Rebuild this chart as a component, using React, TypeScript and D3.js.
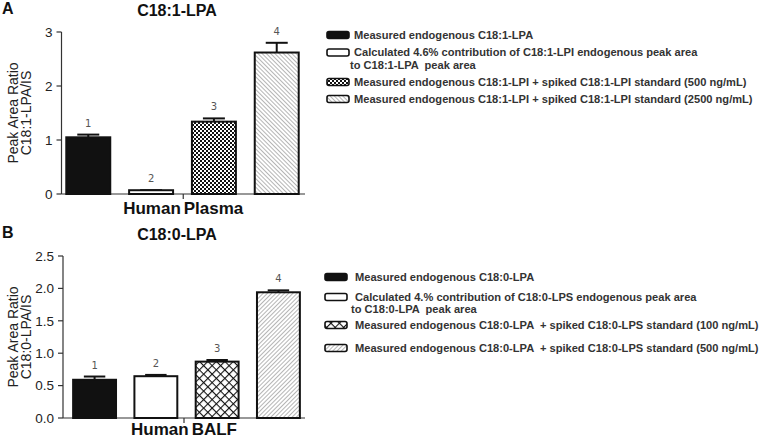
import React from "react";
import * as d3 from "d3";

const categories = ["1", "2", "3", "4"];
const plasmaValues = [1.05, 0.07, 1.34, 2.62];
const plasmaErrors = [0.05, 0.0, 0.06, 0.18];
const balfValues = [0.59, 0.645, 0.87, 1.94];
const balfErrors = [0.05, 0.02, 0.025, 0.03];
const plasmaTicks = [0, 1, 2, 3];
const balfTicks = [0, 0.5, 1.0, 1.5, 2.0, 2.5];
const plasmaLegend = [
  ["Measured endogenous C18:1-LPA"],
  ["Calculated 4.6% contribution of C18:1-LPI endogenous peak area", "to C18:1-LPA  peak area"],
  ["Measured endogenous C18:1-LPI + spiked C18:1-LPI standard (500 ng/mL)"],
  ["Measured endogenous C18:1-LPI + spiked C18:1-LPI standard (2500 ng/mL)"],
];
const balfLegend = [
  ["Measured endogenous C18:0-LPA"],
  ["Calculated 4.% contribution of C18:0-LPS endogenous peak area", "to C18:0-LPA  peak area"],
  ["Measured endogenous C18:0-LPA  + spiked C18:0-LPS standard (100 ng/mL)"],
  ["Measured endogenous C18:0-LPA  + spiked C18:0-LPS standard (500 ng/mL)"],
];

const FONT = "'Liberation Sans', Arial, sans-serif";

type PanelProps = {
  letter: string;
  title: string;
  yLabel2: string;
  group: [string, string];
  values: number[];
  errors: number[];
  ticks: number[];
  tickFmt: (v: number) => string;
  yDomain: [number, number];
  yRange: [number, number];
  xRange: [number, number];
  axisX: number;
  top: number;
  groupDy: number;
  fills: string[];
  legend: string[][];
  legendRows: number[];
  legendLineGap: number;
  legendSwatchX: number;
  legendTextX: number;
};

function Panel(p: PanelProps) {
  const y = d3.scaleLinear().domain(p.yDomain).range(p.yRange);
  const x = d3.scaleBand().domain(categories).range(p.xRange).paddingInner(0.3).paddingOuter(0.1);
  const y0 = y(0);
  const axisEnd = 305;
  const midY = (p.yRange[0] + p.yRange[1]) / 2;
  const centerX = (p.axisX + axisEnd) / 2;
  return (
    <g>
      <text x={2} y={p.top + 14} fontFamily={FONT} fontWeight="bold" fontSize={16} fill="#111">{p.letter}</text>
      <text x={177} y={p.top + 16} textAnchor="middle" fontFamily={FONT} fontWeight="bold" fontSize={16} fill="#111">{p.title}</text>
      {/* y axis */}
      <line x1={p.axisX} x2={p.axisX} y1={p.yRange[1]} y2={y0} stroke="#333" strokeWidth={1.2} />
      {p.ticks.map((t) => (
        <g key={t}>
          <line x1={p.axisX - 5} x2={p.axisX} y1={y(t)} y2={y(t)} stroke="#333" strokeWidth={1.2} />
          <text x={p.axisX - 9} y={y(t)} dy="0.35em" textAnchor="end" fontFamily={FONT} fontSize={13.5} fill="#222">{p.tickFmt(t)}</text>
        </g>
      ))}
      {/* x axis */}
      <line x1={p.axisX} x2={axisEnd} y1={y0} y2={y0} stroke="#333" strokeWidth={1.2} />
      <line x1={centerX} x2={centerX} y1={y0} y2={y0 + 5} stroke="#333" strokeWidth={1.2} />
      <text x={centerX} y={y0 + p.groupDy} textAnchor="middle" fontFamily={FONT} fontWeight="bold" fontSize={17} fill="#111">
        {p.group[0]}<tspan dx={3}>{p.group[1]}</tspan>
      </text>
      {/* y title */}
      <text transform={`translate(18,${midY}) rotate(-90)`} textAnchor="middle" fontFamily={FONT} fontSize={14} fill="#222">Peak Area Ratio</text>
      <text transform={`translate(31,${midY}) rotate(-90)`} textAnchor="middle" fontFamily={FONT} fontSize={14} fill="#222">{p.yLabel2}</text>
      {/* bars */}
      {categories.map((c, i) => {
        const bx = x(c)!;
        const bw = x.bandwidth();
        const v = p.values[i];
        const e = p.errors[i];
        const cx = bx + bw / 2;
        const yTop = y(v);
        const yErr = y(v + e);
        return (
          <g key={c}>
            <line x1={cx} x2={cx} y1={yTop} y2={yErr} stroke="#111" strokeWidth={2} />
            <line x1={cx - bw / 4} x2={cx + bw / 4} y1={yErr} y2={yErr} stroke="#111" strokeWidth={2} />
            <rect x={bx} y={yTop} width={bw} height={y0 - yTop} fill={p.fills[i]} stroke="#111" strokeWidth={2} />
            <text x={cx} y={yErr - 8} textAnchor="middle" fontFamily="'DejaVu Sans', sans-serif" fontSize={10} fill="#555">{c}</text>
          </g>
        );
      })}
      {/* legend */}
      {p.legend.map((lines, i) => (
        <g key={i}>
          <rect x={p.legendSwatchX} y={p.legendRows[i] - 3.5} width={22} height={7} rx={2} fill={p.fills[i]} stroke="#111" strokeWidth={1.6} />
          {lines.map((ln, j) => (
            <text key={j} x={j === 0 ? p.legendTextX : p.legendTextX - 4} y={p.legendRows[i] + j * p.legendLineGap} dy="0.35em" fontFamily={FONT} fontWeight="bold" fontSize={11.1} fill="#333" style={{ whiteSpace: "pre" }}>{ln}</text>
          ))}
        </g>
      ))}
    </g>
  );
}

export default function App() {
  return (
    <svg width={765} height={439} style={{ position: "absolute", left: 0, top: 0, background: "#fff" }}>
      <defs>
        <pattern id="dots" width={4} height={4} patternUnits="userSpaceOnUse">
          <rect width={4} height={4} fill="#fff" />
          <rect x={0} y={0} width={2} height={2} fill="#111" />
          <rect x={2} y={2} width={2} height={2} fill="#111" />
        </pattern>
        <pattern id="hatchA" width={3} height={3} patternUnits="userSpaceOnUse" patternTransform="rotate(-45)">
          <rect width={3} height={3} fill="#fff" />
          <line x1={0} y1={0} x2={0} y2={3} stroke="#777" strokeWidth={1.1} />
        </pattern>
        <pattern id="cross" width={6} height={6} patternUnits="userSpaceOnUse" patternTransform="rotate(45)">
          <rect width={6} height={6} fill="#fff" />
          <line x1={0} y1={0} x2={6} y2={0} stroke="#111" strokeWidth={2.2} />
          <line x1={0} y1={0} x2={0} y2={6} stroke="#111" strokeWidth={2.2} />
        </pattern>
        <pattern id="hatchB" width={3} height={3} patternUnits="userSpaceOnUse" patternTransform="rotate(45)">
          <rect width={3} height={3} fill="#fff" />
          <line x1={0} y1={0} x2={0} y2={3} stroke="#777" strokeWidth={1.1} />
        </pattern>
      </defs>
      <rect width={765} height={439} fill="#fff" />
      <Panel
        letter="A"
        title="C18:1-LPA"
        yLabel2="C18:1-LPA/IS"
        group={["Human", "Plasma"]}
        values={plasmaValues}
        errors={plasmaErrors}
        ticks={plasmaTicks}
        tickFmt={(v) => d3.format("d")(v)}
        yDomain={[0, 3]}
        yRange={[194, 32]}
        xRange={[60, 305]}
        axisX={61.5}
        top={0}
        groupDy={20}
        fills={["#111", "#fff", "url(#dots)", "url(#hatchA)"]}
        legend={plasmaLegend}
        legendRows={[35, 52.5, 82, 99]}
        legendLineGap={12.5}
        legendSwatchX={327}
        legendTextX={354}
      />
      <Panel
        letter="B"
        title="C18:0-LPA"
        yLabel2="C18:0-LPA/IS"
        group={["Human", "BALF"]}
        values={balfValues}
        errors={balfErrors}
        ticks={balfTicks}
        tickFmt={(v) => d3.format(".1f")(v)}
        yDomain={[0, 2.5]}
        yRange={[418, 256]}
        xRange={[67, 306]}
        axisX={63}
        top={224}
        groupDy={17}
        fills={["#111", "#fff", "url(#cross)", "url(#hatchB)"]}
        legend={balfLegend}
        legendRows={[277, 297, 325, 348]}
        legendLineGap={12}
        legendSwatchX={325}
        legendTextX={355}
      />
    </svg>
  );
}
